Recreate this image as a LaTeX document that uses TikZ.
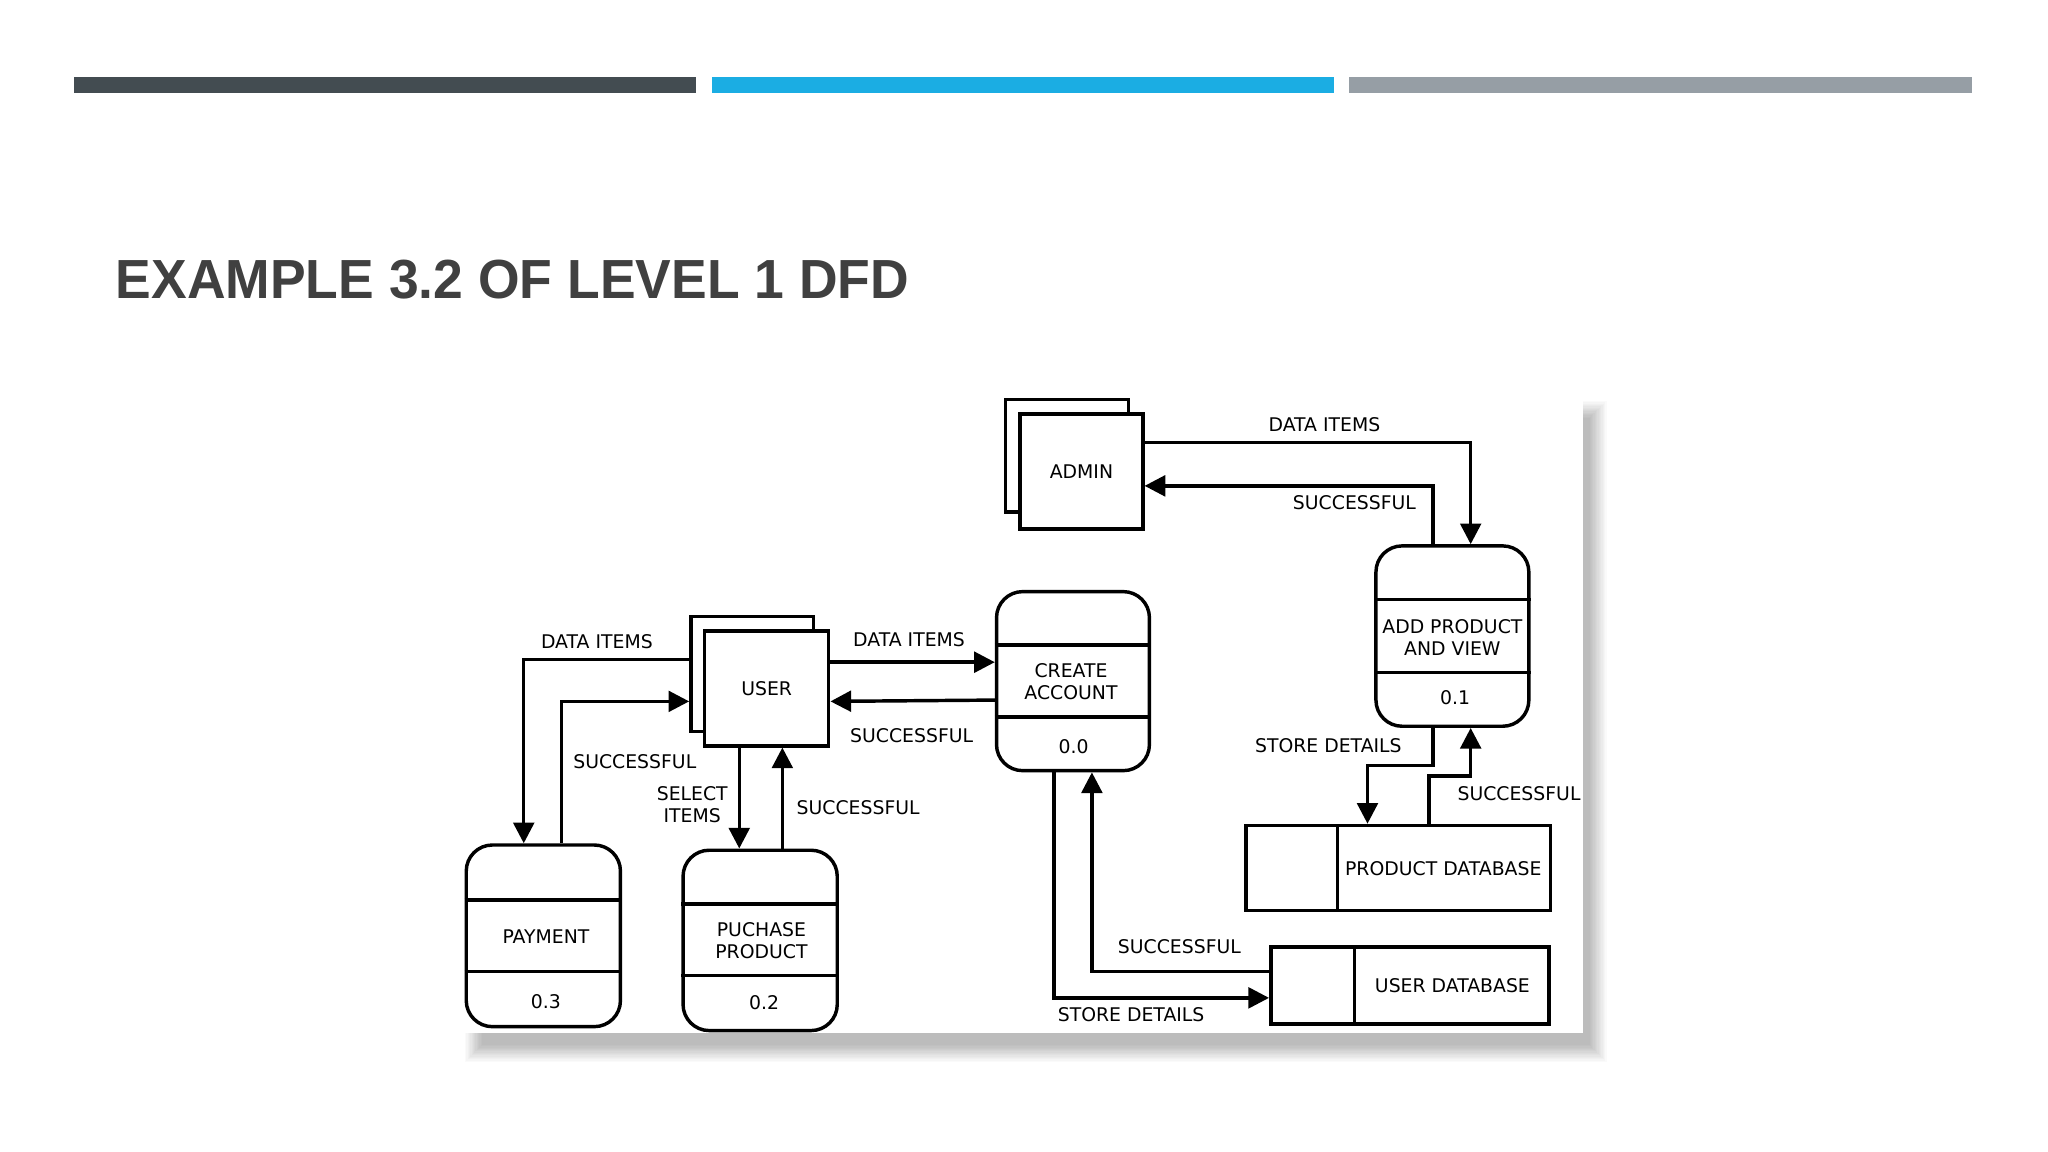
\documentclass[tikz,border=0pt]{standalone}
\usepackage{fontspec}
\setmainfont{DejaVu Sans}
\newfontfamily\titlefont{Liberation Sans}
\usetikzlibrary{arrows.meta}
\definecolor{bardark}{HTML}{434C51}
\definecolor{barcyan}{HTML}{1BADE3}
\definecolor{bargray}{HTML}{969EA5}
\definecolor{titlec}{HTML}{404040}
\tikzset{
 x=0.01cm,y=-0.01cm,
 lbl/.style={font=\fontsize{4.1}{4.9}\selectfont,align=center,inner sep=0},
 proc/.style={draw,line width=0.75pt,rounded corners=0.2cm,inner sep=0,minimum width=1.17cm},
 ent/.style={draw,line width=0.75pt,fill=white,inner sep=0,minimum width=0.94cm},
 store/.style={draw,line width=0.75pt,inner sep=0},
 arr/.style={line width=0.75pt,-{Triangle[length=4.5pt,width=4.5pt]}},
}
\begin{document}
\begin{tikzpicture}
\useasboundingbox (0,0) rectangle (1568,882);
\fill[white] (0,0) rectangle (1568,882);
% bars
\fill[bardark] (57,59) rectangle (533,71);
\fill[barcyan] (545,59) rectangle (1021,71);
\fill[bargray] (1033,59) rectangle (1510,71);
\node[anchor=west,inner sep=0,text=titlec] (title) at (88,214) {\scalebox{0.97}[1]{\titlefont\bfseries\fontsize{12}{14}\selectfont EXAMPLE 3.2 OF LEVEL 1 DFD}};
% panel shadow
\foreach \i in {1,...,14}{
 \fill[black,opacity=0.018] (356-\i+14,305-\i+16) rectangle (1212+\i+4,791+\i+8);}
\fill[white] (356,305) rectangle (1212,791);
% entities
\node[ent,minimum height=0.86cm] (adminb) at (817,349) {};
\node[ent,minimum height=0.88cm] (admin) at (828,361) {};
\node[lbl] at (admin) {ADMIN};
\node[ent,minimum height=0.88cm] (userb) at (576,516) {};
\node[ent,minimum height=0.88cm,minimum width=0.95cm] (user) at (587,527) {};
\node[lbl] at (user) {USER};
% processes
\node[proc,minimum height=1.37cm] (ca) at (821.5,521.5) {};
\draw[line width=0.75pt] (ca.west |- 0,494) -- (ca.east |- 0,494) (ca.west |- 0,549) -- (ca.east |- 0,549);
\node[lbl] at (820,522) {CREATE\\ACCOUNT};
\node[lbl] at (822,572) {0.0};
\node[proc,minimum height=1.38cm] (ap) at (1112,487) {};
\draw[line width=0.75pt] (ap.west |- 0,459) -- (ap.east |- 0,459) (ap.west |- 0,515) -- (ap.east |- 0,515);
\node[lbl] at (1112,488) {ADD PRODUCT\\AND VIEW};
\node[lbl] at (1114,534) {0.1};
\node[proc,minimum height=1.39cm,minimum width=1.18cm] (pay) at (416,716.5) {};
\draw[line width=0.75pt] (pay.west |- 0,689) -- (pay.east |- 0,689) (pay.west |- 0,744) -- (pay.east |- 0,744);
\node[lbl] at (418,717) {PAYMENT};
\node[lbl] at (418,767) {0.3};
\node[proc,minimum height=1.38cm,minimum width=1.18cm] (pp) at (582,720) {};
\draw[line width=0.75pt] (pp.west |- 0,692) -- (pp.east |- 0,692) (pp.west |- 0,747) -- (pp.east |- 0,747);
\node[lbl] at (583,720) {PUCHASE\\PRODUCT};
\node[lbl] at (585,768) {0.2};
% stores
\node[store,minimum width=2.33cm,minimum height=0.65cm] (pdb) at (1070.5,664.5) {};
\draw[line width=0.75pt] (1024,632) -- (1024,697);
\node[lbl] at (1105,665) {PRODUCT DATABASE};
\node[store,minimum width=2.13cm,minimum height=0.59cm] (udb) at (1079.5,754.5) {};
\draw[line width=0.75pt] (1037,725) -- (1037,784);
\node[lbl] at (1112,755) {USER DATABASE};
% flows
\draw[arr] (admin.east |- 0,339) -- (1126,339) -- (ap.north -| 1126,0);
\node[lbl] at (1014,325) {DATA ITEMS};
\draw[arr] (ap.north -| 1097,0) -- (1097,372) -- (admin.east |- 0,372);
\node[lbl] at (1037,385) {SUCCESSFUL};
\draw[arr] (user.east |- 0,507) -- (ca.west |- 0,507);
\node[lbl] at (696,490) {DATA ITEMS};
\draw[arr] (ca.west |- 0,536) -- (user.east |- 0,537);
\node[lbl] at (698,563) {SUCCESSFUL};
\draw[arr] (userb.west |- 0,505) -- (401,505) -- (pay.north -| 401,0);
\node[lbl] at (457,491) {DATA ITEMS};
\draw[arr] (pay.north -| 430,0) -- (430,537) -- (userb.west |- 0,537);
\node[lbl] at (486,583) {SUCCESSFUL};
\draw[arr] (user.south -| 566,0) -- (pp.north -| 566,0);
\node[lbl] at (530,616) {SELECT\\ITEMS};
\draw[arr] (pp.north -| 599,0) -- (user.south -| 599,0);
\node[lbl] at (657,618) {SUCCESSFUL};
\draw[arr] (ca.south -| 807,0) -- (807,764) -- (udb.west |- 0,764);
\node[lbl] at (866,777) {STORE DETAILS};
\draw[arr] (udb.west |- 0,744) -- (836,744) -- (ca.south -| 836,0);
\node[lbl] at (903,725) {SUCCESSFUL};
\draw[arr] (ap.south -| 1097,0) -- (1097,586) -- (1047,586) -- (pdb.north -| 1047,0);
\node[lbl] at (1017,571) {STORE DETAILS};
\draw[arr] (pdb.north -| 1094,0) -- (1094,594) -- (1126,594) -- (ap.south -| 1126,0);
\node[lbl] at (1163,608) {SUCCESSFUL};
\end{tikzpicture}
\end{document}
